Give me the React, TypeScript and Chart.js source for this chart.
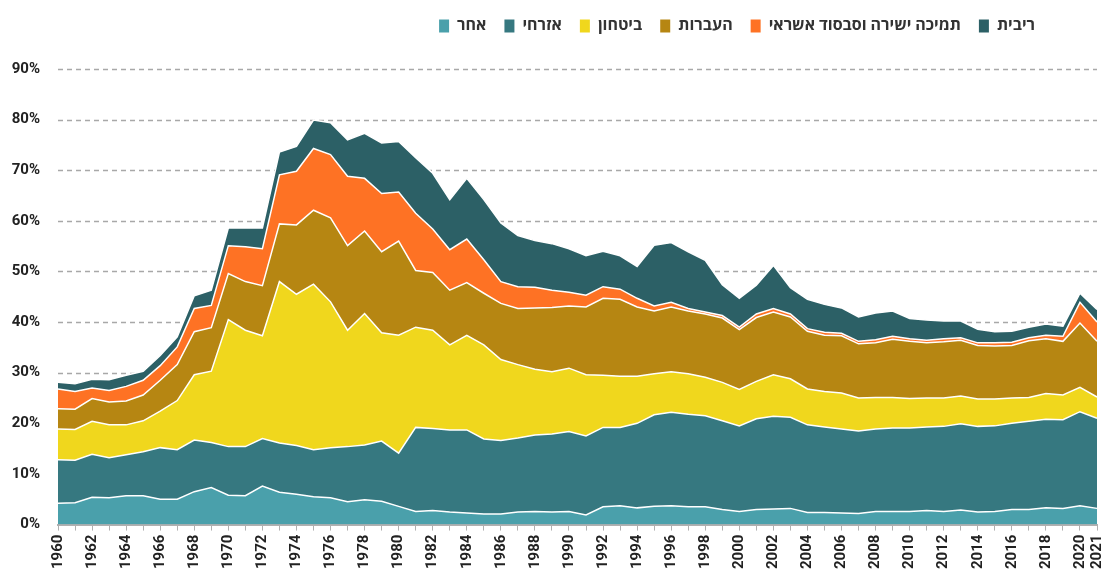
import React, { useEffect, useRef } from "react";
import { Chart, registerables } from "chart.js";

Chart.register(...registerables);

const years: string[] = [];
for (let y = 1960; y <= 2021; y++) years.push(String(y));

const seriesNames = ["אחר", "אזרחי", "ביטחון", "העברות", "תמיכה ישירה וסבסוד אשראי", "ריבית"];
const seriesColors = ["#4aa0ab", "#367880", "#f0d71d", "#b68612", "#fe7224", "#2c6066"];

const other = [4.2, 4.3, 5.4, 5.3, 5.7, 5.7, 5.0, 5.0, 6.5, 7.3, 5.8, 5.7, 7.6, 6.4, 6.0, 5.5, 5.3, 4.5, 4.9, 4.6, 3.6, 2.6, 2.8, 2.5, 2.3, 2.1, 2.1, 2.5, 2.6, 2.5, 2.6, 1.9, 3.5, 3.7, 3.3, 3.6, 3.7, 3.5, 3.5, 3.0, 2.6, 3.0, 3.1, 3.2, 2.4, 2.4, 2.3, 2.2, 2.6, 2.6, 2.6, 2.8, 2.6, 2.9, 2.5, 2.6, 3.0, 3.0, 3.3, 3.2, 3.7, 3.2];
const civil = [8.6, 8.4, 8.5, 7.9, 8.1, 8.7, 10.2, 9.8, 10.2, 8.9, 9.6, 9.7, 9.4, 9.7, 9.6, 9.3, 9.9, 10.9, 10.8, 11.9, 10.5, 16.6, 16.2, 16.2, 16.4, 14.8, 14.5, 14.6, 15.1, 15.4, 15.8, 15.6, 15.7, 15.5, 16.7, 18.1, 18.5, 18.3, 18.0, 17.5, 16.9, 17.9, 18.3, 18.0, 17.3, 16.9, 16.6, 16.3, 16.3, 16.5, 16.5, 16.5, 16.8, 17.0, 16.9, 16.9, 17.0, 17.4, 17.5, 17.5, 18.6, 17.8];
const defense = [6.1, 6.1, 6.5, 6.5, 5.9, 6.1, 7.2, 9.7, 12.9, 14.1, 25.1, 23.0, 20.3, 31.9, 29.9, 32.7, 28.8, 23.0, 26.0, 21.4, 23.3, 19.8, 19.4, 16.8, 18.7, 18.6, 16.0, 14.5, 13.0, 12.3, 12.5, 12.1, 10.3, 10.1, 9.3, 8.1, 8.0, 8.0, 7.6, 7.6, 7.2, 7.4, 8.2, 7.6, 7.1, 7.0, 7.1, 6.5, 6.2, 6.0, 5.8, 5.7, 5.6, 5.5, 5.4, 5.3, 5.0, 4.7, 5.1, 4.9, 4.8, 4.2];
const transfers = [4.0, 4.0, 4.5, 4.5, 4.7, 5.1, 6.1, 7.1, 8.5, 8.6, 9.1, 9.6, 9.9, 11.4, 13.7, 14.6, 16.6, 16.7, 16.3, 16.0, 18.6, 11.2, 11.4, 10.8, 10.4, 10.2, 11.1, 11.1, 12.1, 12.7, 12.3, 13.4, 15.2, 15.2, 13.7, 12.4, 12.8, 12.4, 12.5, 12.7, 11.8, 12.6, 12.4, 12.2, 11.4, 11.1, 11.3, 10.7, 10.8, 11.5, 11.3, 10.9, 11.1, 11.0, 10.6, 10.5, 10.4, 11.2, 10.8, 10.6, 12.7, 11.0];
const support = [3.9, 3.5, 2.1, 2.3, 2.9, 2.9, 2.9, 3.5, 4.6, 4.4, 5.5, 6.9, 7.3, 9.7, 10.6, 12.2, 12.5, 13.7, 10.4, 11.5, 9.7, 11.3, 8.6, 8.0, 8.6, 6.6, 4.3, 4.3, 4.1, 3.4, 2.7, 2.3, 2.3, 2.0, 1.7, 1.0, 0.9, 0.5, 0.4, 0.5, 0.5, 0.7, 0.7, 0.6, 0.5, 0.6, 0.5, 0.5, 0.6, 0.6, 0.5, 0.5, 0.6, 0.5, 0.5, 0.6, 0.6, 0.6, 0.7, 1.0, 4.1, 3.8];
const interest = [1.3, 1.5, 1.7, 2.1, 2.2, 1.8, 2.0, 2.0, 2.5, 3.0, 3.5, 3.7, 4.1, 4.5, 4.9, 5.6, 6.3, 7.2, 8.9, 10.0, 10.0, 11.0, 11.0, 9.9, 12.0, 11.9, 11.6, 10.1, 9.2, 9.2, 8.6, 7.8, 7.0, 6.6, 6.3, 12.0, 11.8, 11.2, 10.2, 6.1, 5.7, 5.7, 8.5, 5.2, 5.8, 5.5, 5.0, 4.8, 5.3, 5.0, 4.0, 4.0, 3.5, 3.3, 2.7, 2.2, 2.2, 2.1, 2.2, 2.0, 1.8, 2.5];

const seriesValues = [other, civil, defense, transfers, support, interest];
const yTicks = [0, 10, 20, 30, 40, 50, 60, 70, 80, 90];

const FONT = "Roboto, 'Open Sans', 'Noto Sans', 'DejaVu Sans', sans-serif";

export default function App() {
  const ref = useRef<HTMLCanvasElement | null>(null);

  useEffect(() => {
    if (!ref.current) return;
    const legendSpacer = {
      id: "legendSpacer",
      beforeInit(chart: any) {
        const orig = chart.legend.fit;
        chart.legend.fit = function () {
          orig.bind(chart.legend)();
          this.height += 25;
        };
      },
    };
    const dashedGrid = {
      id: "dashedGrid",
      beforeDatasetsDraw(chart: any) {
        const y = chart.scales.y;
        const area = chart.chartArea;
        const ctx = chart.ctx;
        ctx.save();
        ctx.strokeStyle = "#a8a8a8";
        ctx.lineWidth = 1.5;
        ctx.setLineDash([5, 4]);
        yTicks.forEach((v) => {
          if (v === 0) return;
          const py = Math.round(y.getPixelForValue(v)) + 0.5;
          ctx.beginPath();
          ctx.moveTo(area.left, py);
          ctx.lineTo(area.right, py);
          ctx.stroke();
        });
        ctx.restore();
      },
    };
    const chart = new Chart(ref.current, {
      type: "line",
      data: {
        labels: years,
        datasets: seriesNames.map((name, i) => ({
          label: name,
          data: seriesValues[i],
          backgroundColor: seriesColors[i],
          borderColor: "#ffffff",
          borderWidth: 1.5,
          pointRadius: 0,
          tension: 0,
          fill: i === 0 ? "origin" : "-1",
        })),
      },
      plugins: [legendSpacer, dashedGrid],
      options: {
        animation: false,
        responsive: true,
        maintainAspectRatio: false,
        layout: { padding: { left: 10, right: 6, top: 0, bottom: 1 } },
        plugins: {
          tooltip: { enabled: false },
          legend: {
            position: "top",
            align: "end",
            labels: {
              boxWidth: 10,
              boxHeight: 13,
              padding: 18,
              color: "#333333",
              font: { family: FONT, size: 16, weight: "bold" },
              generateLabels(chart: any) {
                const items = Chart.defaults.plugins.legend.labels.generateLabels(chart);
                const out = items.map((it: any, i: number) => ({
                  ...it,
                  fillStyle: seriesColors[i],
                  strokeStyle: seriesColors[i],
                  lineWidth: 0,
                }));
                out.push({
                  text: "  ",
                  fillStyle: "rgba(0,0,0,0)",
                  strokeStyle: "rgba(0,0,0,0)",
                  fontColor: "rgba(0,0,0,0)",
                  lineWidth: 0,
                  hidden: false,
                  datasetIndex: -1,
                });
                return out;
              },
            },
          },
        },
        scales: {
          x: {
            type: "category",
            offset: false,
            afterFit(scale: any) {
              scale.paddingLeft = 0;
              scale.paddingRight = 0;
            },
            grid: {
              drawOnChartArea: false,
              drawTicks: true,
              tickLength: 6,
              color: "#b0b0b0",
            },
            border: { display: true, color: "#b0b0b0", width: 2 },
            ticks: {
              autoSkip: false,
              maxRotation: 90,
              minRotation: 90,
              padding: 4,
              color: "#222222",
              font: { family: FONT, size: 15, weight: "bold" },
              callback(this: any, val: any) {
                const lab = String(this.getLabelForValue(val));
                const n = parseInt(lab, 10);
                return n % 2 === 0 || n === 2021 ? lab : "";
              },
            },
          },
          y: {
            stacked: true,
            min: 0,
            max: 90,
            afterFit(scale: any) {
              scale.width = 48;
            },
            afterBuildTicks(scale: any) {
              scale.ticks = yTicks.map((v) => ({ value: v }));
            },
            grid: { display: false, drawTicks: false },
            border: { display: false },
            ticks: {
              padding: 18,
              color: "#222222",
              font: { family: FONT, size: 15, weight: "bold" },
              callback: (v: any) => v + "%",
            },
          },
        },
      },
    });
    return () => chart.destroy();
  }, []);

  return (
    <div style={{ position: "fixed", left: 0, top: 0, width: 1103, height: 574, background: "#fff" }}>
      <canvas ref={ref} />
    </div>
  );
}
